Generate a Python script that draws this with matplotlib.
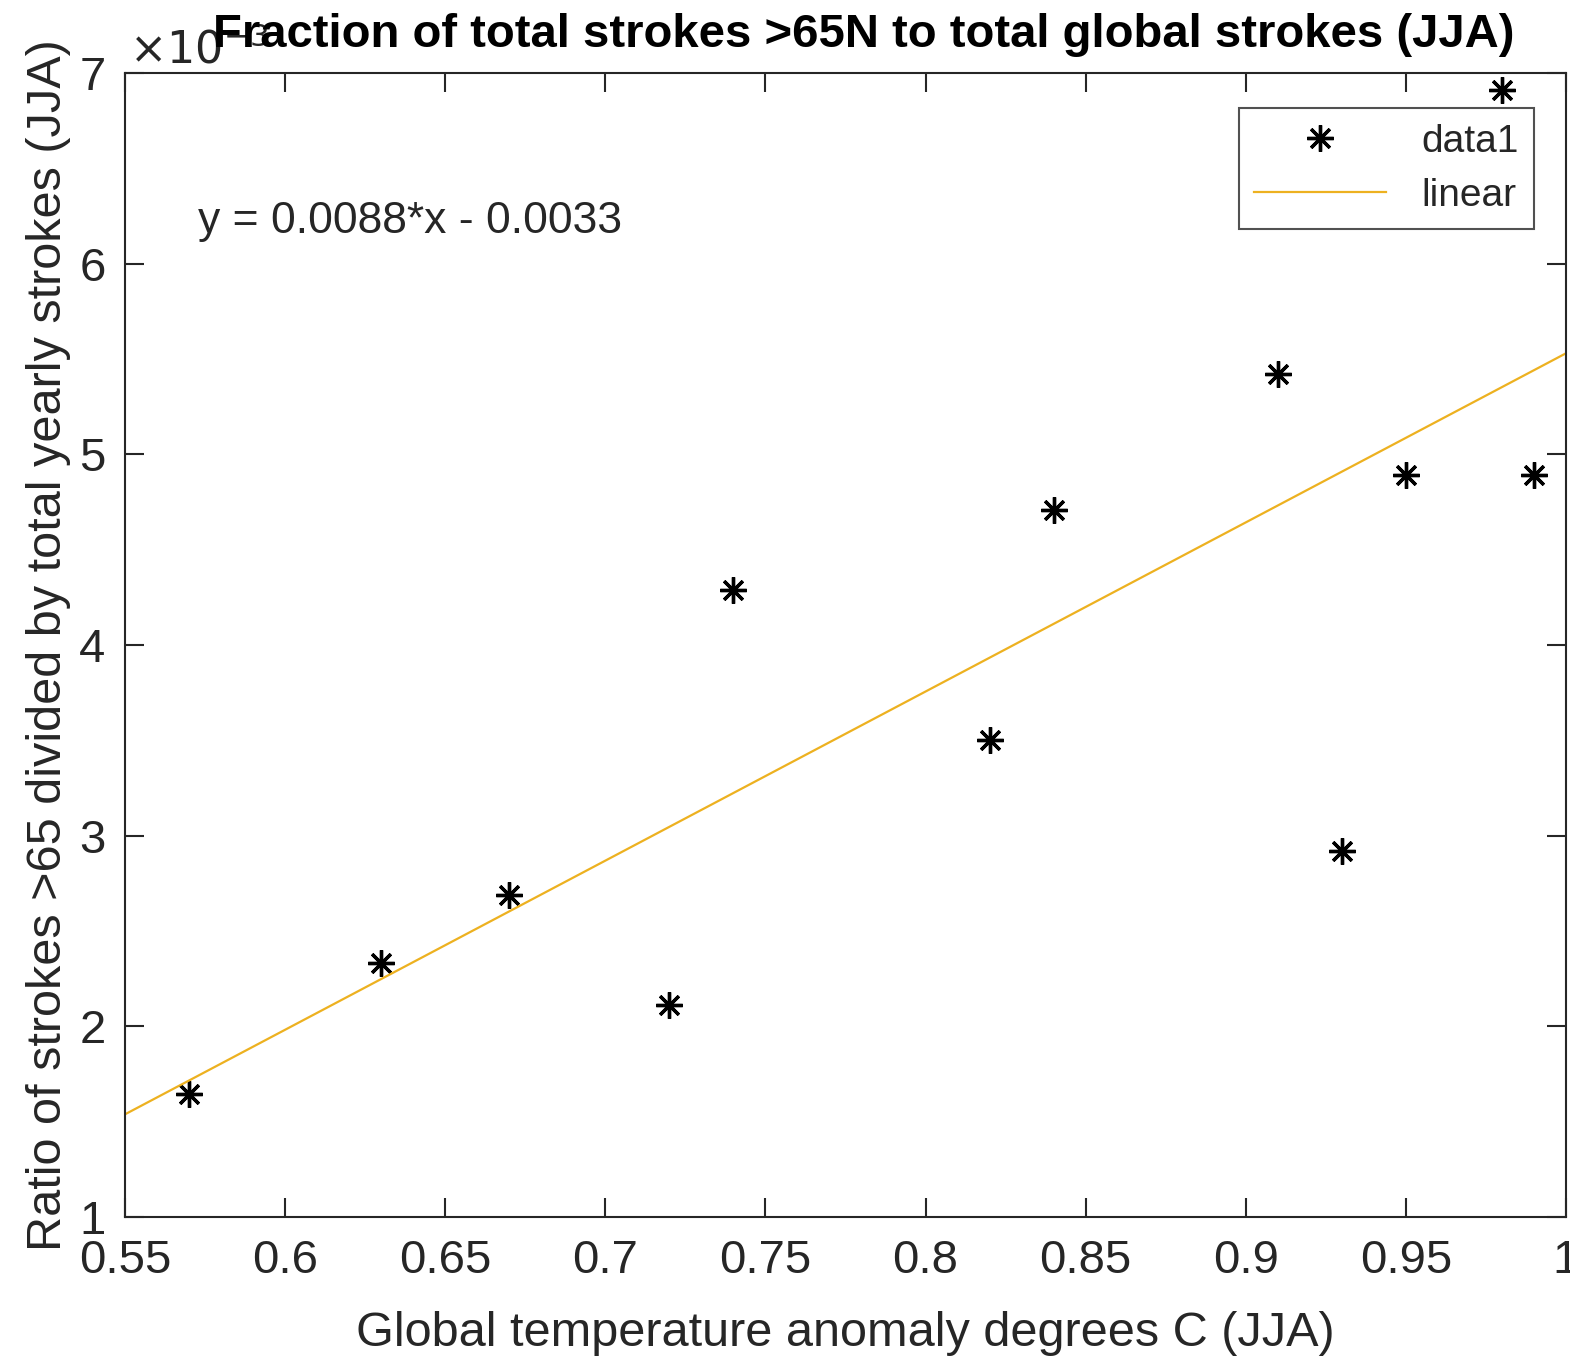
import matplotlib
matplotlib.use("Agg")
import matplotlib.pyplot as plt
import numpy as np

plt.rcParams['font.family'] = ['Liberation Sans', 'DejaVu Sans']

# Data (ratio values in units of 1e-3)
temp_anomaly = [0.57, 0.63, 0.67, 0.72, 0.74, 0.82, 0.84, 0.91, 0.93, 0.95, 0.98, 0.99]
stroke_ratio = [1.645, 2.33, 2.69, 2.11, 4.29, 3.50, 4.71, 5.42, 2.92, 4.89, 6.91, 4.89]
fit_slope = 0.00887
fit_intercept = -0.00334
x_ticks = [0.55, 0.6, 0.65, 0.7, 0.75, 0.8, 0.85, 0.9, 0.95, 1.0]
x_tick_labels = ['0.55', '0.6', '0.65', '0.7', '0.75', '0.8', '0.85', '0.9', '0.95', '1']
y_ticks = [1, 2, 3, 4, 5, 6, 7]

dark = '#262626'
fig = plt.figure(figsize=(15.7, 13.56), dpi=100)
ax = fig.add_axes([125/1570, 1 - 1217/1356, (1566-125)/1570, (1217-73)/1356])

x = np.array(temp_anomaly)
y = np.array(stroke_ratio)
ax.plot(x, y, linestyle='none', marker=(8, 2, 0), markersize=19, markeredgewidth=2.4,
        color='black', label='data1')
xl = np.array([0.55, 1.0])
ax.plot(xl, (fit_slope * xl + fit_intercept) * 1e3, color='#EDB120', linewidth=1.6, label='linear')

ax.set_xlim(0.55, 1.0)
ax.set_ylim(1, 7)
ax.set_xticks(x_ticks)
ax.set_xticklabels(x_tick_labels)
ax.set_yticks(y_ticks)
ax.tick_params(direction='in', length=14, width=1.5, colors=dark, labelsize=34,
               top=True, right=True)
ax.tick_params(axis='x', pad=16)
ax.tick_params(axis='y', pad=14)
for s in ax.spines.values():
    s.set_color(dark)
    s.set_linewidth(1.5)

ax.set_xlabel('Global temperature anomaly degrees C (JJA)', fontsize=35, color=dark, labelpad=20)
ax.set_ylabel('Ratio of strokes >65 divided by total yearly strokes (JJA)', fontsize=35,
              color=dark, labelpad=6)
ax.text(0.003, 1.0, r'$\times10^{-3}$', transform=ax.transAxes, fontsize=32, color=dark,
        ha='left', va='bottom')
ax.set_title('Fraction of total strokes >65N to total global strokes (JJA)', fontsize=34,
             fontweight='bold', color='black', pad=19, x=0.513)
ax.text(0.051, 0.87, 'y = 0.0088*x - 0.0033', transform=ax.transAxes, fontsize=32, color=dark,
        ha='left', va='center')

leg = ax.legend(loc='upper right', bbox_to_anchor=(0.978, 0.969), borderaxespad=0,
                fontsize=28, frameon=True,
                fancybox=False, edgecolor=dark, handlelength=3.4, borderpad=0.4,
                labelspacing=0.45, handletextpad=0.9)
leg.get_frame().set_linewidth(1.5)
for t in leg.get_texts():
    t.set_color(dark)

fig.savefig('out.png', dpi=100)
